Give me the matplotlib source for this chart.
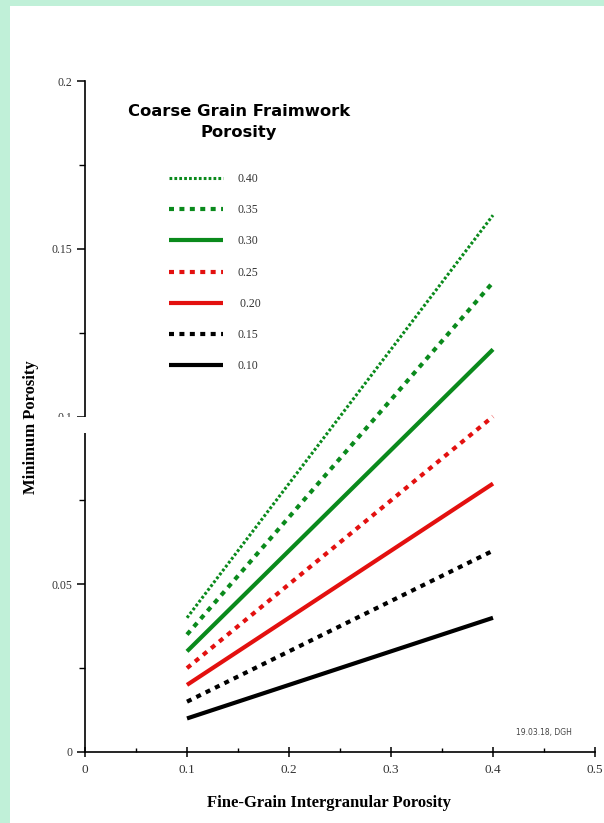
import matplotlib
matplotlib.use("Agg")
import matplotlib.pyplot as plt
from matplotlib.patches import Rectangle
from matplotlib.ticker import MultipleLocator

# fine-grain intergranular porosity (x) and minimum porosity per framework porosity
fine_porosity = [0.1, 0.4]
framework = ["0.40", "0.35", "0.30", "0.25", " 0.20", "0.15", "0.10"]
min_040 = [0.040, 0.160]
min_035 = [0.035, 0.140]
min_030 = [0.030, 0.120]
min_025 = [0.025, 0.100]
min_020 = [0.020, 0.080]
min_015 = [0.015, 0.060]
min_010 = [0.010, 0.040]

GREEN = "#0a8a1c"
RED = "#e3100f"
BLACK = "#000000"
SERIF = "Liberation Serif"

styles = [
    (min_040, GREEN, 2.2, (0, (0.9, 0.7))),
    (min_035, GREEN, 3.0, (0, (1.2, 1.3))),
    (min_030, GREEN, 3.0, "-"),
    (min_025, RED, 3.0, (0, (1.2, 1.3))),
    (min_020, RED, 3.0, "-"),
    (min_015, BLACK, 3.0, (0, (1.2, 1.3))),
    (min_010, BLACK, 3.0, "-"),
]

W, H = 604, 823
fig = plt.figure(figsize=(W / 100, H / 100), dpi=100)
fig.patch.set_facecolor("#c0f0d8")
fig.patches.append(Rectangle((10 / W, 0), 1, 1 - 6 / H, transform=fig.transFigure,
                             facecolor="white", edgecolor="none", zorder=-5))

ax = fig.add_axes([85 / W, 1 - 752 / H, 510 / W, 671 / H])
ax.patch.set_alpha(0)

for (ys, color, lw, ls), lab in zip(styles, framework):
    ax.plot(fine_porosity, ys, color=color, lw=lw, linestyle=ls, label=lab,
            solid_capstyle="butt", dash_capstyle="butt")

ax.set_xlim(0, 0.5)
ax.set_ylim(0, 0.2)
ax.xaxis.set_minor_locator(MultipleLocator(0.05))
ax.yaxis.set_minor_locator(MultipleLocator(0.025))
ax.set_xticks([0, 0.1, 0.2, 0.3, 0.4, 0.5])
ax.set_xticklabels(["0", "0.1", "0.2", "0.3", "0.4", "0.5"])
ax.set_yticks([0, 0.05, 0.1, 0.15, 0.2])
ax.set_yticklabels(["0", "0.05", "0.1", "0.15", "0.2"])

for s in ["top", "right"]:
    ax.spines[s].set_visible(False)
for s in ["left", "bottom"]:
    ax.spines[s].set_linewidth(1.2)

ax.tick_params(axis="y", which="major", direction="out", length=6, width=1.1,
               labelsize=8.5, pad=3)
ax.tick_params(axis="y", which="minor", direction="out", length=4, width=1.0)
ax.tick_params(axis="x", which="major", direction="inout", length=7, width=1.1,
               labelsize=9.5, pad=5)
ax.tick_params(axis="x", which="minor", direction="in", length=3, width=1.0)
for lab in ax.get_xticklabels() + ax.get_yticklabels():
    lab.set_fontfamily(SERIF)
    lab.set_color("#333333")

ax.set_xlabel("Fine-Grain Intergranular Porosity", fontfamily=SERIF,
              fontweight="bold", fontsize=12)
ax.set_ylabel("Minimum Porosity", fontfamily=SERIF, fontweight="bold",
              fontsize=12)
ax.xaxis.set_label_coords(0.5 + (329 - 340) / 510, -(803 - 752) / 671)
ax.yaxis.set_label_coords(-(85 - 31) / 510, 0.5 + (416 - 427) / 671)
ax.xaxis.label.set_va("center")
ax.yaxis.label.set_va("center")

ax.text(0.302, (752 - 122) / 671, "Coarse Grain Fraimwork\nPorosity",
        transform=ax.transAxes, ha="center", va="center",
        fontfamily="DejaVu Sans", fontweight="bold", fontsize=11.8,
        linespacing=1.5)

leg = ax.legend(loc="upper left", bbox_to_anchor=(78 / 510, (752 - 167) / 671),
                frameon=False, handlelength=4.6, handletextpad=1.2,
                labelspacing=1.63, borderpad=0,
                prop={"family": SERIF, "size": 8.5})
for t in leg.get_texts():
    t.set_color("#333333")

ax.text((572 - 85) / 510, (752 - 732) / 671, "19.03.18, DGH",
        transform=ax.transAxes, ha="right", va="center",
        fontfamily="DejaVu Sans", fontsize=5.5, color="#444444")

# break in the left axis around 0.1
fig.patches.append(Rectangle((40 / W, 1 - 433 / H), 50 / W, 16 / H,
                             transform=fig.transFigure, facecolor="white",
                             edgecolor="none", zorder=5))

fig.savefig("out.png", dpi=100, facecolor=fig.get_facecolor())
